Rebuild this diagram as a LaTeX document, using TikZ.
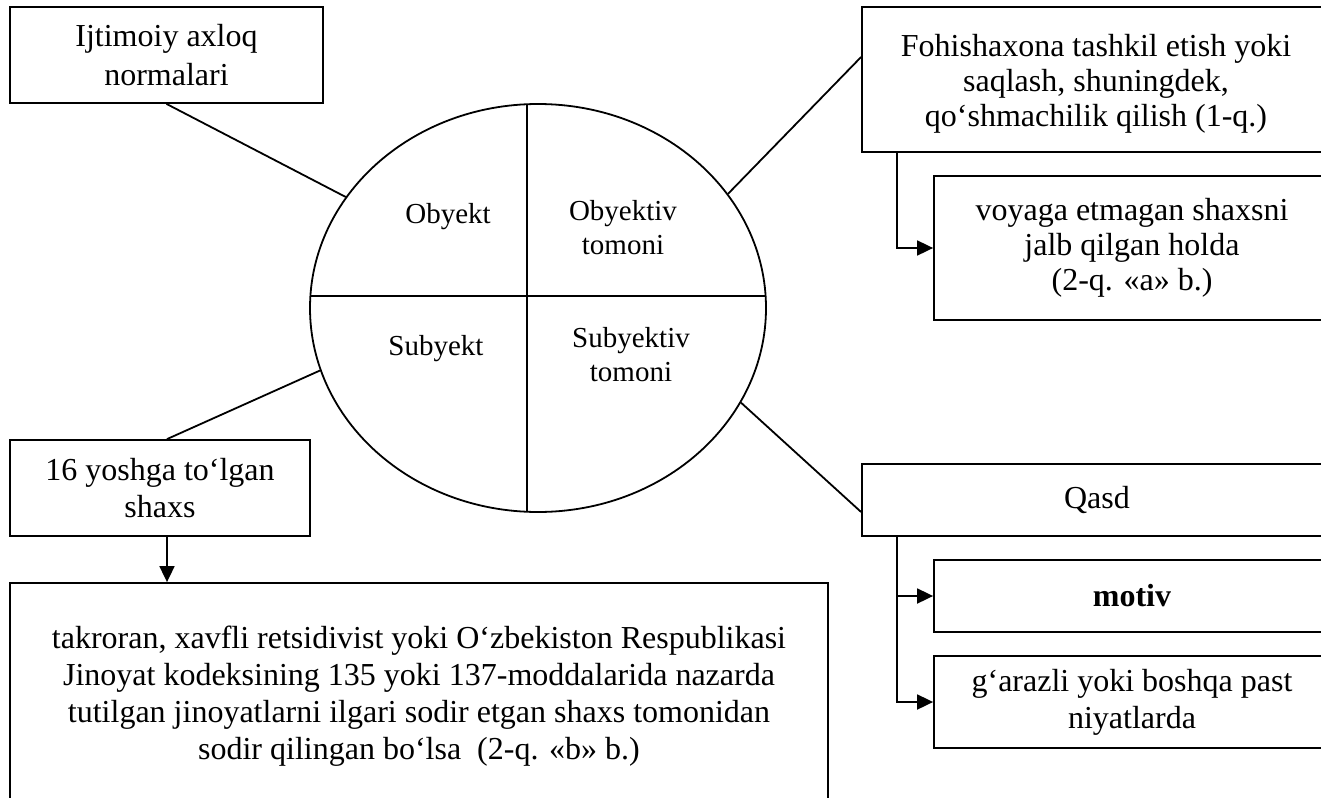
\documentclass[tikz,border=0pt]{standalone}
\usepackage{fontspec}
\setmainfont{Liberation Serif}
\usetikzlibrary{arrows.meta,shapes.geometric,calc}
\begin{document}
\begin{tikzpicture}[x=1pt,y=1pt,
  box/.style={draw,line width=1.8pt,rectangle,inner sep=0pt,align=center,font=\fontsize{32}{39}\selectfont},
  lbl/.style={align=center,inner sep=0pt,font=\fontsize{29}{34}\selectfont},
  conn/.style={line width=1.8pt},
  arr/.style={line width=1.8pt,-{Triangle[length=16pt,width=15pt]}}]
\useasboundingbox (0,0) rectangle (1321,-797);
\clip (0,0) rectangle (1321,-797);

% boxes
\node[box,minimum width=313pt,minimum height=96pt] (ijt) at (166.5,-55) {Ijtimoiy axloq\\normalari};
\node[box,minimum width=468pt,minimum height=145pt,font=\fontsize{32}{35}\selectfont] (foh) at (1096,-79.5) {\rule{0pt}{31pt}Fohishaxona tashkil etish yoki\\saqlash, shuningdek,\\qo‘shmachilik qilish (1-q.)};
\node[box,minimum width=396pt,minimum height=144pt,font=\fontsize{32}{35}\selectfont] (voy) at (1132,-248) {voyaga etmagan shaxsni\\jalb qilgan holda\\(2-q. «a» b.)};
\node[box,minimum width=470pt,minimum height=72pt] (qasd) at (1097,-500) {Qasd};
\node[box,minimum width=396pt,minimum height=72pt,font={\fontsize{32}{39}\selectfont\bfseries}] (motiv) at (1132,-596) {motiv};
\node[box,minimum width=396pt,minimum height=92pt,font=\fontsize{32}{37}\selectfont] (gar) at (1132,-702) {g‘arazli yoki boshqa past\\niyatlarda};
\node[box,minimum width=300pt,minimum height=96pt,font=\fontsize{32}{37}\selectfont] (b16) at (160,-488) {16 yoshga to‘lgan\\shaxs};
\node[box,minimum width=818pt,minimum height=227pt,font=\fontsize{32}{37}\selectfont] (big) at (419,-696.5) {takroran, xavfli retsidivist yoki O‘zbekiston Respublikasi\\Jinoyat kodeksining 135 yoki 137-moddalarida nazarda\\tutilgan jinoyatlarni ilgari sodir etgan shaxs tomonidan\\sodir qilingan bo‘lsa~ (2-q. «b» b.)};

% ellipse
\node[ellipse,draw,line width=1.8pt,minimum width=456pt,minimum height=408pt,inner sep=0pt] (ell) at (538,-308) {};
\draw[conn] ($(ell.center)+(-11,203.8)$) -- ($(ell.center)+(-11,-203.8)$);
\draw[conn] ($(ell.center)+(-227.6,12)$) -- ($(ell.center)+(227.6,12)$);

\node[lbl,anchor=base] (obj) at (448,-223) {Obyekt};
\node[lbl,anchor=north] (objt) at (623,-200) {Obyektiv\\tomoni};
\node[lbl,anchor=base] (sub) at (436,-355) {Subyekt};
\node[lbl,anchor=north] (subt) at (631,-327) {Subyektiv\\tomoni};

% connectors
\draw[conn] (ijt.south) -- (ell.150);
\draw[conn] ([yshift=22.5pt]foh.west) -- (ell.31);
\draw[conn] ([xshift=7pt]b16.north) -- (ell.196);
\draw[conn] ([yshift=-12pt]qasd.west) -- (ell.335);

% arrows
\coordinate (s16) at ([xshift=7pt]b16.south);
\draw[arr] (s16) -- (s16 |- big.north);
\coordinate (fohs) at ([xshift=36pt]foh.south west);
\draw[arr] (fohs) |- (voy.west);
\coordinate (qs) at ([xshift=36pt]qasd.south west);
\draw[arr] (qs) |- (motiv.west);
\draw[arr] (qs) |- (gar.west);
\end{tikzpicture}
\end{document}
